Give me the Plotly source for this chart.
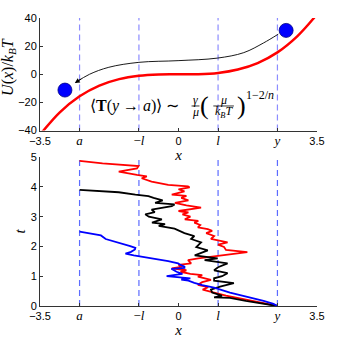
import plotly.graph_objects as go

# landmark positions on the x axis
a_pos, l_pos, y_pos = -2.5, 1.0, 2.5
x_tickvals = [-3.5, a_pos, -l_pos, 0, l_pos, y_pos, 3.5]

# potential U(x)/kBT
pot_x = [-3.6, -3.5, -3.0, -2.5, -2.0, -1.5, -1.0, -0.5, 0.0, 0.5, 1.0, 1.5, 2.0, 2.5, 3.0, 3.4, 3.5]
pot_u = [-46.6, -42.9, -27.0, -15.6, -8.0, -3.4, -1.0, -0.1, 0.0, 0.1, 1.0, 3.4, 8.0, 15.6, 27.0, 39.3, 42.9]

# particles (blue circles)
ball_x = [2.72, -2.87]
ball_u = [31.2, -11.2]

# curved arrow from y to a
arrow_x = [2.52, 2.15, 1.65, 0.98, -0.01, -1.0, -1.76, -2.25, -2.6]
arrow_u = [28.5, 22.3, 15.4, 11.5, 9.7, 8.5, 5.0, 0.0, -5.8]

# sample trajectories x(t), bottom panel
red_t = [0, 0.08, 0.16, 0.25, 0.35, 0.45, 0.55, 0.63, 0.71, 0.8, 0.88, 0.99, 1.04, 1.08, 1.15, 1.2, 1.26, 1.32,
         1.38, 1.43, 1.54, 1.6, 1.65, 1.72, 1.81, 1.88, 1.98, 2.06, 2.14, 2.2, 2.25, 2.35, 2.45, 2.52, 2.58, 2.64,
         2.72, 2.8, 2.86, 2.91, 3.0, 3.08, 3.14, 3.19, 3.3, 3.38, 3.46, 3.55, 3.63, 3.7, 3.74, 3.85, 3.92, 3.98,
         4.02, 4.07, 4.18, 4.29, 4.35, 4.4, 4.51, 4.62, 4.7, 4.79, 4.87]
red_x = [2.5, 2.2, 1.82, 1.5, 1.2, 0.9, 0.61, 0.75, 0.49, 0.6, 0.82, 0.49, 0.6, 0.3, 0.05, 0.2, -0.17, 0.1,
         0.0, 0.32, 0.24, 0.5, 0.82, 1.2, 1.74, 1.2, 1.15, 1.0, 1.24, 1.0, 0.82, 0.9, 0.7, 0.85, 0.74, 0.49,
         0.55, 0.4, 0.5, 0.16, 0.3, 0.1, 0.25, 0.0, 0.57, 0.2, -0.09, 0.25, 0.07, 0.2, -0.17, 0.15, 0.0, 0.28,
         0.24, -0.26, -0.68, -0.93, -0.8, -1.05, -1.51, -1.05, -1.01, -1.92, -2.5]

black_t = [0, 0.08, 0.17, 0.27, 0.29, 0.35, 0.45, 0.55, 0.65, 0.77, 0.85, 0.93, 1.0, 1.1, 1.2, 1.3,
           1.43, 1.54, 1.6, 1.7, 1.8, 1.87, 1.98, 2.05, 2.14, 2.25, 2.35, 2.45, 2.53, 2.6, 2.69, 2.75, 2.8,
           2.91, 3.0, 3.08, 3.15, 3.24, 3.35, 3.41, 3.46, 3.55, 3.63, 3.69, 3.74, 3.82, 3.9]
black_x = [2.5, 2.1, 1.7, 1.3, 0.9, 1.1, 0.85, 0.82, 1.05, 1.4, 0.9, 0.9, 1.1, 1.24, 0.9, 1.0,
           1.24, 0.66, 0.99, 0.41, 0.6, 0.74, 0.45, 0.5, 0.57, 0.32, 0.4, 0.15, 0.0, -0.1, -0.5, -0.34, -0.67,
           -0.42, -0.75, -0.84, -0.6, -0.68, -0.17, -0.1, -0.59, -0.4, -0.63, -0.76, -1.09, -1.51, -2.5]

blue_t = [0, 0.07, 0.17, 0.34, 0.45, 0.62, 0.7, 0.78, 0.85, 0.89, 0.93, 1.0, 1.08, 1.15, 1.25, 1.28,
          1.32, 1.38, 1.43, 1.51, 1.6, 1.66, 1.7, 1.76, 1.82, 1.9, 1.95, 2.01, 2.1, 2.18, 2.25, 2.37, 2.45, 2.5]
blue_x = [2.5, 2.4, 2.15, 1.65, 1.3, 0.9, 0.6, 0.4, 0.25, 0.07, 0.3, -0.3, 0.1, -0.05, -0.18, 0.15,
          0.15, 0.05, -0.01, -0.26, -0.68, -1.05, -1.13, -1.34, -1.2, -1.1, -1.09, -1.22, -1.45, -1.6, -1.84, -1.96, -2.3, -2.5]

SANS = "Liberation Sans"
SERIF = "Liberation Serif"


def it(s, size=13):
    return f"<span style=\"font-family:'{SERIF}';font-size:{size}px\"><i>{s}</i></span>"


x_ticktext = ["\u22123.5", it("a"),
              "<span style=\"font-family:'Liberation Serif';font-size:13px\">\u2212</span>" + it("l"),
              "0", it("l"), it("y"), "3.5"]

fig = go.Figure()

# top panel: potential
fig.add_trace(go.Scatter(x=pot_x, y=pot_u, mode="lines", line=dict(color="red", width=2.5, shape="spline"),
                         xaxis="x", yaxis="y"))
fig.add_trace(go.Scatter(x=arrow_x, y=arrow_u, mode="lines", line=dict(color="black", width=0.9, shape="spline"),
                         xaxis="x", yaxis="y"))
fig.add_trace(go.Scatter(x=ball_x, y=ball_u, mode="markers", cliponaxis=False,
                         marker=dict(color="#0000ff", size=14, line=dict(color="#000080", width=0.8)),
                         xaxis="x", yaxis="y"))

# bottom panel: trajectories
for tt, xx, col in [(red_t, red_x, "red"), (black_t, black_x, "black"), (blue_t, blue_x, "blue")]:
    fig.add_trace(go.Scatter(x=xx, y=tt, mode="lines", line=dict(color=col, width=1.8),
                             xaxis="x2", yaxis="y2"))

shapes = []
for xv in [a_pos, -l_pos, l_pos, y_pos]:
    shapes.append(dict(type="line", xref="x", yref="y domain", x0=xv, x1=xv, y0=0, y1=1,
                       line=dict(color="#8c8cff", width=1.2, dash="6px,4px"), layer="below"))
    shapes.append(dict(type="line", xref="x2", yref="y2 domain", x0=xv, x1=xv, y0=0, y1=1,
                       line=dict(color="#5c6cff", width=1.2, dash="6px,4px"), layer="below"))

# fraction bars of the formula
shapes.append(dict(type="line", xref="x", yref="y", x0=0.33, x1=0.53, y0=-22.5, y1=-22.5,
                   line=dict(color="black", width=0.8)))
shapes.append(dict(type="line", xref="x", yref="y", x0=0.88, x1=1.40, y0=-22.5, y1=-22.5,
                   line=dict(color="black", width=0.8)))

ann = []
ann.append(dict(x=-2.62, y=-6.2, ax=-2.42, ay=-2.6, xref="x", yref="y", axref="x", ayref="y",
                showarrow=True, arrowhead=2, arrowsize=1.1, arrowwidth=0.9, arrowcolor="black", text=""))
fsty = dict(xref="x", yref="y", showarrow=False)
ann.append(dict(x=0.06, y=-22.2, xanchor="right", text="\u27e8<b>T</b>(<i>y</i> \u2192 <i>a</i>)\u27e9 \u223c",
                font=dict(family=SERIF, size=16, color="black"), **fsty))
ann.append(dict(x=0.43, y=-18.4, text="<i>\u03b3</i>", font=dict(family=SERIF, size=12, color="black"), **fsty))
ann.append(dict(x=0.43, y=-26.8, text="<i>\u03bc</i>", font=dict(family=SERIF, size=12, color="black"), **fsty))
ann.append(dict(x=0.66, y=-22.4, text="(", font=dict(family=SERIF, size=26, color="black"), **fsty))
ann.append(dict(x=1.13, y=-18.4, text="<i>\u03bc</i>", font=dict(family=SERIF, size=12, color="black"), **fsty))
ann.append(dict(x=1.14, y=-27.0, text="<i>k<sub>B</sub>T</i>", font=dict(family=SERIF, size=12, color="black"), **fsty))
ann.append(dict(x=1.6, y=-22.4, text=")", font=dict(family=SERIF, size=26, color="black"), **fsty))
ann.append(dict(x=2.05, y=-14.8, text="1\u22122/<i>n</i>", font=dict(family=SERIF, size=12, color="black"), **fsty))
# axis titles
ann.append(dict(x=-0.112, y=0.83, xref="paper", yref="paper", xanchor="center", yanchor="middle",
                textangle=-90, showarrow=False,
                text="<i>U</i>(<i>x</i>)/<i>k<sub>B</sub>T</i>", font=dict(family=SERIF, size=16, color="black")))
ann.append(dict(x=-0.071, y=0.26, xref="paper", yref="paper", xanchor="center", yanchor="middle",
                textangle=-90, showarrow=False,
                text="<i>t</i>", font=dict(family=SERIF, size=15, color="black")))

xaxis_common = dict(range=[-3.5, 3.5], tickvals=x_tickvals, ticktext=x_ticktext, ticks="inside", ticklen=3,
                    tickcolor="#333", showline=True, linecolor="#333", linewidth=1, showgrid=False,
                    zeroline=False, tickfont=dict(family=SANS, size=11, color="black"),
                    title=dict(text="<i>x</i>", font=dict(family=SERIF, size=15, color="black"), standoff=0))
yaxis_common = dict(ticks="inside", ticklen=3, tickcolor="#333", showline=True, linecolor="#333", linewidth=1,
                    showgrid=False, zeroline=False, tickfont=dict(family=SANS, size=11, color="black"))

fig.update_layout(
    width=337, height=346,
    margin=dict(l=40, r=16, t=16, b=36),
    paper_bgcolor="white", plot_bgcolor="white",
    showlegend=False,
    xaxis=dict(domain=[0, 1], anchor="y", **xaxis_common),
    yaxis=dict(domain=[0.609, 1], anchor="x", range=[-40, 40], tickvals=[-40, -20, 0, 20, 40], **yaxis_common),
    xaxis2=dict(domain=[0, 1], anchor="y2", **xaxis_common),
    yaxis2=dict(domain=[0, 0.517], anchor="x2", range=[0, 5], tickvals=[0, 1, 2, 3, 4, 5], **yaxis_common),
    shapes=shapes,
    annotations=ann,
)

# drop the default 8px body margin so the figure sits at the window's corner
fig.write_html("out.html", config={"displayModeBar": False},
               post_script="document.body.style.margin='0px';")
